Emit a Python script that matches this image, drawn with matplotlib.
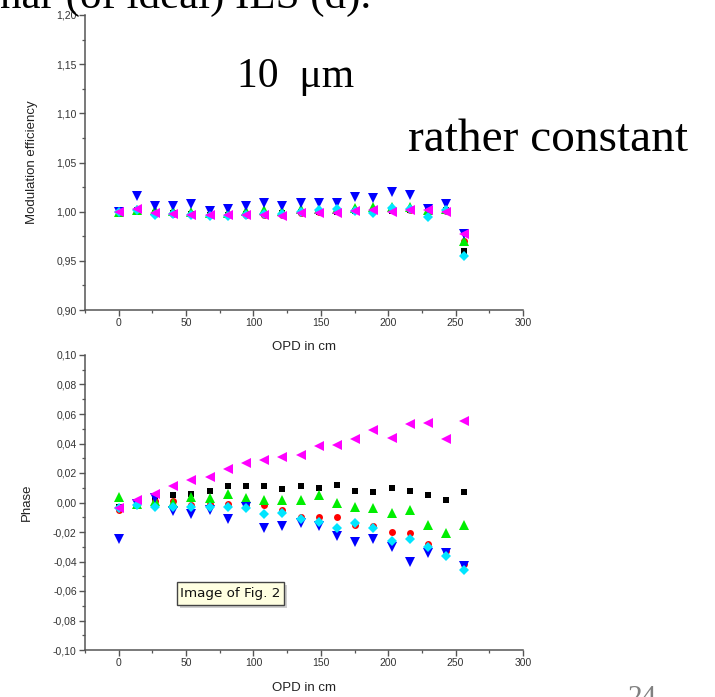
import matplotlib.pyplot as plt
from matplotlib.ticker import MultipleLocator, FuncFormatter
from matplotlib.patches import Rectangle

W, H = 715, 697

#################
## CHART DATA  ##
#################
opd = [0, 13.5, 27, 40.5, 54, 67.5, 81, 94.5, 108, 121.5,
       135, 148.5, 162, 175.5, 189, 202.5, 216, 229.5, 243, 256.5]

# modulation efficiency (top panel)
mod_black = [1.000, 1.002, 0.999, 0.999, 0.998, 0.997, 0.997, 0.998, 0.998, 0.999,
             1.000, 1.000, 1.000, 1.001, 1.000, 1.001, 1.002, 1.001, 1.002, 0.960]
mod_red = [1.000, 1.002, 0.998, 0.998, 0.998, 0.997, 0.997, 0.997, 0.997, 0.997,
           0.999, 1.000, 1.001, 1.002, 1.001, 1.003, 1.002, 1.001, 1.001, 0.970]
mod_green = [1.000, 1.002, 1.002, 1.001, 1.000, 0.999, 0.999, 1.001, 1.002, 1.001,
             1.003, 1.003, 1.003, 1.004, 1.005, 1.005, 1.005, 1.002, 1.003, 0.970]
mod_blue = [1.000, 1.016, 1.006, 1.006, 1.008, 1.001, 1.003, 1.006, 1.009, 1.006,
            1.009, 1.009, 1.009, 1.015, 1.014, 1.020, 1.017, 1.003, 1.008, 0.977]
mod_cyan = [1.000, 1.002, 0.997, 0.998, 0.997, 0.996, 0.996, 0.997, 0.998, 0.998,
            1.000, 1.002, 1.003, 1.001, 0.999, 1.004, 1.003, 0.995, 1.002, 0.955]
mod_magenta = [1.000, 1.003, 0.999, 0.998, 0.997, 0.997, 0.997, 0.997, 0.997, 0.996,
               0.999, 0.999, 0.999, 1.001, 1.002, 1.000, 1.002, 1.002, 1.000, 0.977]

# phase (bottom panel)
ph_black = [-0.003, -0.001, 0.003, 0.005, 0.006, 0.008, 0.011, 0.011, 0.011, 0.009,
            0.011, 0.010, 0.012, 0.008, 0.007, 0.010, 0.008, 0.005, 0.002, 0.007]
ph_red = [-0.005, -0.001, 0.001, 0.001, -0.002, -0.001, -0.001, -0.002, -0.002, -0.005,
          -0.010, -0.010, -0.010, -0.015, -0.016, -0.020, -0.021, -0.028, -0.033, -0.042]
ph_green = [0.004, -0.001, 0.001, 0.000, 0.004, 0.003, 0.006, 0.003, 0.002, 0.002,
            0.002, 0.005, 0.000, -0.003, -0.004, -0.007, -0.005, -0.015, -0.021, -0.015]
ph_blue = [-0.025, -0.001, 0.003, -0.006, -0.008, -0.005, -0.011, -0.003, -0.017, -0.016,
           -0.014, -0.016, -0.023, -0.027, -0.025, -0.030, -0.040, -0.034, -0.034, -0.043]
ph_cyan = [-0.004, -0.002, -0.003, -0.003, -0.003, -0.003, -0.003, -0.004, -0.008, -0.007,
           -0.011, -0.013, -0.017, -0.014, -0.017, -0.026, -0.025, -0.030, -0.036, -0.046]
ph_magenta = [-0.004, 0.002, 0.006, 0.011, 0.015, 0.017, 0.023, 0.027, 0.029, 0.031,
              0.032, 0.038, 0.039, 0.043, 0.049, 0.044, 0.053, 0.054, 0.043, 0.055]

mod_series = [mod_black, mod_red, mod_green, mod_blue, mod_cyan, mod_magenta]
ph_series = [ph_black, ph_red, ph_green, ph_blue, ph_cyan, ph_magenta]
styles = [("#000000", "s", 4.0), ("#ff0000", "o", 5.0), ("#00ee00", "^", 6.5),
          ("#0000ff", "v", 6.5), ("#00e5ff", "D", 5.0), ("#ff00ff", "<", 6.5)]

plt.rcParams['font.family'] = ['Liberation Sans', 'DejaVu Sans']
fig = plt.figure(figsize=(W / 100, H / 100), dpi=100)


def fx(x):
    return x / W


def fy(y):
    return 1 - y / H


def comma(v, pos):
    return ("%.2f" % v).replace(".", ",").replace("-0,00", "0,00")


def style_axes(ax, ylo, yhi, ymaj, ymin):
    ax.set_xlim(-25, 300)
    ax.set_ylim(ylo, yhi)
    for s in ["top", "right"]:
        ax.spines[s].set_visible(False)
    for s in ["left", "bottom"]:
        ax.spines[s].set_color("#555555")
        ax.spines[s].set_linewidth(1.1)
    ax.xaxis.set_major_locator(MultipleLocator(50))
    ax.xaxis.set_minor_locator(MultipleLocator(25))
    ax.yaxis.set_major_locator(MultipleLocator(ymaj))
    ax.yaxis.set_minor_locator(MultipleLocator(ymin))
    ax.yaxis.set_major_formatter(FuncFormatter(comma))
    ax.tick_params(which="major", direction="out", length=4, width=1, color="#555555",
                   labelsize=7.5, labelcolor="#333333", pad=2)
    ax.tick_params(which="minor", direction="out", length=2.5, width=0.9, color="#555555")
    ax.set_xlabel("OPD in cm", fontsize=9.5, color="#222222")
    ax.xaxis.label.set_va("center")
    ax.xaxis.set_label_coords(0.5, -0.125)


#######################
## MODULATION PANEL  ##
#######################
ax1 = fig.add_axes([fx(85), fy(310), fx(523) - fx(85), fy(15) - fy(310)])
for vals, (c, m, ms) in zip(mod_series, styles):
    ax1.plot(opd, vals, linestyle="none", marker=m, color=c, markersize=ms,
             markeredgewidth=0)
style_axes(ax1, 0.90, 1.20, 0.05, 0.025)
ax1.set_ylabel("Modulation efficiency", fontsize=9.5, color="#222222")
ax1.yaxis.label.set_va("center")
ax1.yaxis.set_label_coords(-0.121, 0.5)

##################
## PHASE PANEL  ##
##################
ax2 = fig.add_axes([fx(85), fy(650), fx(523) - fx(85), fy(355) - fy(650)])
for vals, (c, m, ms) in zip(ph_series, styles):
    ax2.plot(opd, vals, linestyle="none", marker=m, color=c, markersize=ms,
             markeredgewidth=0)
style_axes(ax2, -0.10, 0.10, 0.02, 0.01)
ax2.set_ylabel("Phase", fontsize=9.5, color="#222222")
ax2.yaxis.label.set_va("center")
ax2.yaxis.set_label_coords(-0.132, 0.5)
ax2.xaxis.set_label_coords(0.5, -0.129)

##########################
## SLIDE TEXT AROUND IT ##
##########################
serif = ['Liberation Serif', 'DejaVu Serif']
fig.text(fx(0), fy(8), "nar (of ideal) ILS (d).", family=serif, fontsize=31,
         va="baseline", ha="left")
fig.text(fx(237), fy(87), "10  \u03bcm", family=serif, fontsize=30,
         va="baseline", ha="left")
fig.text(fx(408), fy(151), "rather constant", family=serif, fontsize=34,
         va="baseline", ha="left")
fig.text(fx(628), fy(705), "24", family=serif, fontsize=21, color="#808080",
         va="baseline", ha="left")

# tooltip box
fig.patches.append(Rectangle((fx(180), fy(608)), fx(107), fy(0) - fy(23),
                             transform=fig.transFigure, fc="#b0b0b0", ec="none",
                             alpha=0.6))
fig.patches.append(Rectangle((fx(177), fy(605)), fx(107), fy(0) - fy(23),
                             transform=fig.transFigure, fc="#ffffe1", ec="#444444",
                             lw=1))
fig.text(fx(230.5), fy(594), "Image of Fig. 2", fontsize=9.7, ha="center", va="center",
         family=['DejaVu Sans'], color="#111111")

fig.savefig("out.png", dpi=100)
